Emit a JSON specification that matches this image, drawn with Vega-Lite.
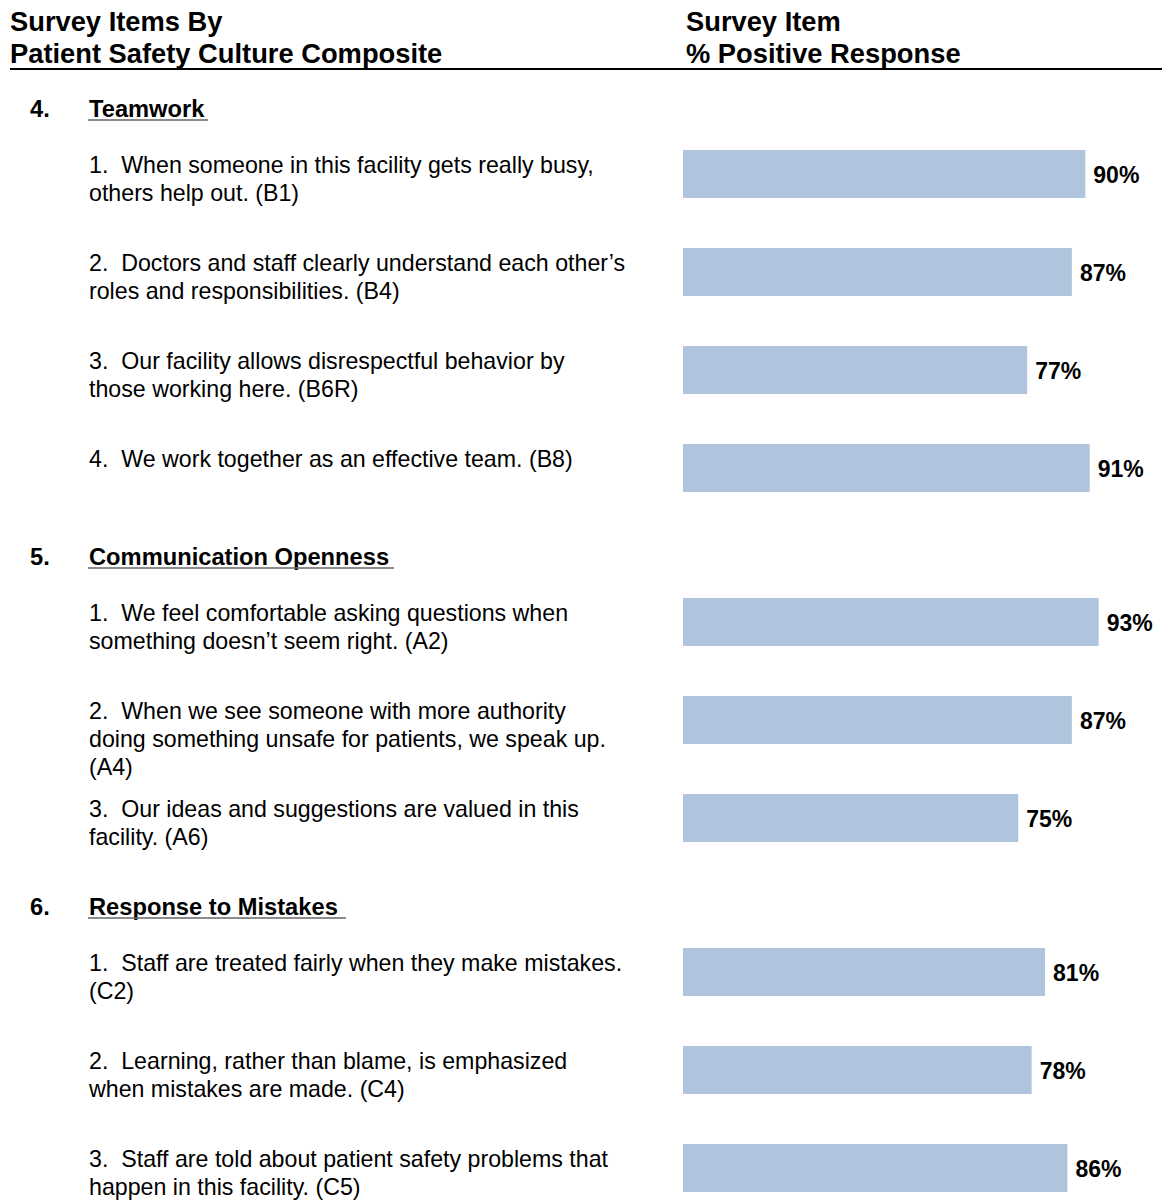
{
  "$schema": "https://vega.github.io/schema/vega-lite/v6.json",
  "padding": 0,
  "spacing": 0,
  "bounds": "flush",
  "background": "white",
  "config": {"view": {"stroke": null}, "font": "Liberation Sans"},
  "resolve": {"scale": {"x": "independent", "y": "independent"}},
  "datasets": {
    "header": [
      {"col": "left", "lines": ["Survey Items By", "Patient Safety Culture Composite"]},
      {"col": "right", "lines": ["Survey Item", "% Positive Response"]}
    ],
    "sections": [
      {"section": 4, "num": "4.", "name": "Teamwork", "item": "4.1"},
      {"section": 5, "num": "5.", "name": "Communication Openness", "item": "5.1"},
      {"section": 6, "num": "6.", "name": "Response to Mistakes", "item": "6.1"}
    ],
    "items": [
      {"section": 4, "item": "4.1", "pct": 0.90, "text": ["1.\u00a0 When someone in this facility gets really busy,", "others help out. (B1)"]},
      {"section": 4, "item": "4.2", "pct": 0.87, "text": ["2.\u00a0 Doctors and staff clearly understand each other\u2019s", "roles and responsibilities. (B4)"]},
      {"section": 4, "item": "4.3", "pct": 0.77, "text": ["3.\u00a0 Our facility allows disrespectful behavior by", "those working here. (B6R)"]},
      {"section": 4, "item": "4.4", "pct": 0.91, "text": ["4.\u00a0 We work together as an effective team. (B8)"]},
      {"section": 5, "item": "5.1", "pct": 0.93, "text": ["1.\u00a0 We feel comfortable asking questions when", "something doesn\u2019t seem right. (A2)"]},
      {"section": 5, "item": "5.2", "pct": 0.87, "text": ["2.\u00a0 When we see someone with more authority", "doing something unsafe for patients, we speak up.", "(A4)"]},
      {"section": 5, "item": "5.3", "pct": 0.75, "text": ["3.\u00a0 Our ideas and suggestions are valued in this", "facility. (A6)"]},
      {"section": 6, "item": "6.1", "pct": 0.81, "text": ["1.\u00a0 Staff are treated fairly when they make mistakes.", "(C2)"]},
      {"section": 6, "item": "6.2", "pct": 0.78, "text": ["2.\u00a0 Learning, rather than blame, is emphasized", "when mistakes are made. (C4)"]},
      {"section": 6, "item": "6.3", "pct": 0.86, "text": ["3.\u00a0 Staff are told about patient safety problems that", "happen in this facility. (C5)"]}
    ]
  },
  "vconcat": [
    {
      "width": 1162,
      "height": 69,
      "data": {"name": "header"},
      "layer": [
        {
          "transform": [{"filter": "datum.col === 'left'"}],
          "mark": {"type": "text", "align": "left", "baseline": "alphabetic", "fontSize": 27.3, "fontWeight": "bold", "lineHeight": 32},
          "encoding": {"x": {"value": 10}, "y": {"value": 31}, "text": {"field": "lines"}}
        },
        {
          "transform": [{"filter": "datum.col === 'right'"}],
          "mark": {"type": "text", "align": "left", "baseline": "alphabetic", "fontSize": 27.3, "fontWeight": "bold", "lineHeight": 32},
          "encoding": {"x": {"value": 686}, "y": {"value": 31}, "text": {"field": "lines"}}
        },
        {
          "transform": [{"filter": "datum.col === 'left'"}],
          "mark": {"type": "rule", "color": "#000", "strokeWidth": 2},
          "encoding": {"x": {"value": 10}, "x2": {"value": 1162}, "y": {"value": 69}}
        }
      ]
    },
    {
      "width": 1162,
      "height": 448,
      "encoding": {"y": {"field": "item", "type": "nominal", "axis": null, "scale": {"paddingInner": 0.510204, "paddingOuter": 0.540816, "align": 0.764151}}},
      "layer": [
        {
          "data": {"name": "items"},
          "transform": [{"filter": "datum.section === 4"}],
          "layer": [
            {"mark": {"type": "bar", "color": "#b0c4de"}, "encoding": {"x": {"field": "pct", "type": "quantitative", "axis": null, "scale": {"domain": [-1.528, 1.0716], "nice": false, "zero": false}}}},
            {"mark": {"type": "text", "align": "left", "baseline": "middle", "dx": 8, "dy": 2, "fontSize": 23, "fontWeight": "bold"}, "encoding": {"x": {"field": "pct", "type": "quantitative"}, "text": {"field": "pct", "format": ".0%"}}},
            {"mark": {"type": "text", "align": "left", "baseline": "alphabetic", "dy": -1, "fontSize": 23.2, "lineHeight": 28}, "encoding": {"x": {"value": 89}, "text": {"field": "text"}}}
          ]
        },
        {
          "data": {"name": "sections"},
          "transform": [{"filter": "datum.section === 4"}],
          "layer": [
            {"mark": {"type": "text", "align": "left", "baseline": "alphabetic", "dy": -57, "fontSize": 23.7, "fontWeight": "bold"}, "encoding": {"x": {"value": 30}, "text": {"field": "num"}}},
            {"mark": {"type": "text", "align": "left", "baseline": "alphabetic", "dy": -57, "fontSize": 23.7, "fontWeight": "bold"}, "encoding": {"x": {"value": 89}, "text": {"field": "name"}}},
            {"mark": {"type": "rule", "color": "#666", "strokeWidth": 1.5, "yOffset": -54}, "encoding": {"x": {"value": 88}, "x2": {"value": 208}}}
          ]
        }
      ]
    },
    {
      "width": 1162,
      "height": 350,
      "encoding": {"y": {"field": "item", "type": "nominal", "axis": null, "scale": {"paddingInner": 0.510204, "paddingOuter": 0.540816, "align": 0.764151}}},
      "layer": [
        {
          "data": {"name": "items"},
          "transform": [{"filter": "datum.section === 5"}],
          "layer": [
            {"mark": {"type": "bar", "color": "#b0c4de"}, "encoding": {"x": {"field": "pct", "type": "quantitative", "axis": null, "scale": {"domain": [-1.528, 1.0716], "nice": false, "zero": false}}}},
            {"mark": {"type": "text", "align": "left", "baseline": "middle", "dx": 8, "dy": 2, "fontSize": 23, "fontWeight": "bold"}, "encoding": {"x": {"field": "pct", "type": "quantitative"}, "text": {"field": "pct", "format": ".0%"}}},
            {"mark": {"type": "text", "align": "left", "baseline": "alphabetic", "dy": -1, "fontSize": 23.2, "lineHeight": 28}, "encoding": {"x": {"value": 89}, "text": {"field": "text"}}}
          ]
        },
        {
          "data": {"name": "sections"},
          "transform": [{"filter": "datum.section === 5"}],
          "layer": [
            {"mark": {"type": "text", "align": "left", "baseline": "alphabetic", "dy": -57, "fontSize": 23.7, "fontWeight": "bold"}, "encoding": {"x": {"value": 30}, "text": {"field": "num"}}},
            {"mark": {"type": "text", "align": "left", "baseline": "alphabetic", "dy": -57, "fontSize": 23.7, "fontWeight": "bold"}, "encoding": {"x": {"value": 89}, "text": {"field": "name"}}},
            {"mark": {"type": "rule", "color": "#666", "strokeWidth": 1.5, "yOffset": -54}, "encoding": {"x": {"value": 88}, "x2": {"value": 394}}}
          ]
        }
      ]
    },
    {
      "width": 1162,
      "height": 334,
      "encoding": {"y": {"field": "item", "type": "nominal", "axis": null, "scale": {"paddingInner": 0.510204, "paddingOuter": 0.459184, "align": 0.9}}},
      "layer": [
        {
          "data": {"name": "items"},
          "transform": [{"filter": "datum.section === 6"}],
          "layer": [
            {"mark": {"type": "bar", "color": "#b0c4de"}, "encoding": {"x": {"field": "pct", "type": "quantitative", "axis": null, "scale": {"domain": [-1.528, 1.0716], "nice": false, "zero": false}}}},
            {"mark": {"type": "text", "align": "left", "baseline": "middle", "dx": 8, "dy": 2, "fontSize": 23, "fontWeight": "bold"}, "encoding": {"x": {"field": "pct", "type": "quantitative"}, "text": {"field": "pct", "format": ".0%"}}},
            {"mark": {"type": "text", "align": "left", "baseline": "alphabetic", "dy": -1, "fontSize": 23.2, "lineHeight": 28}, "encoding": {"x": {"value": 89}, "text": {"field": "text"}}}
          ]
        },
        {
          "data": {"name": "sections"},
          "transform": [{"filter": "datum.section === 6"}],
          "layer": [
            {"mark": {"type": "text", "align": "left", "baseline": "alphabetic", "dy": -57, "fontSize": 23.7, "fontWeight": "bold"}, "encoding": {"x": {"value": 30}, "text": {"field": "num"}}},
            {"mark": {"type": "text", "align": "left", "baseline": "alphabetic", "dy": -57, "fontSize": 23.7, "fontWeight": "bold"}, "encoding": {"x": {"value": 89}, "text": {"field": "name"}}},
            {"mark": {"type": "rule", "color": "#666", "strokeWidth": 1.5, "yOffset": -54}, "encoding": {"x": {"value": 88}, "x2": {"value": 346}}}
          ]
        }
      ]
    }
  ]
}
